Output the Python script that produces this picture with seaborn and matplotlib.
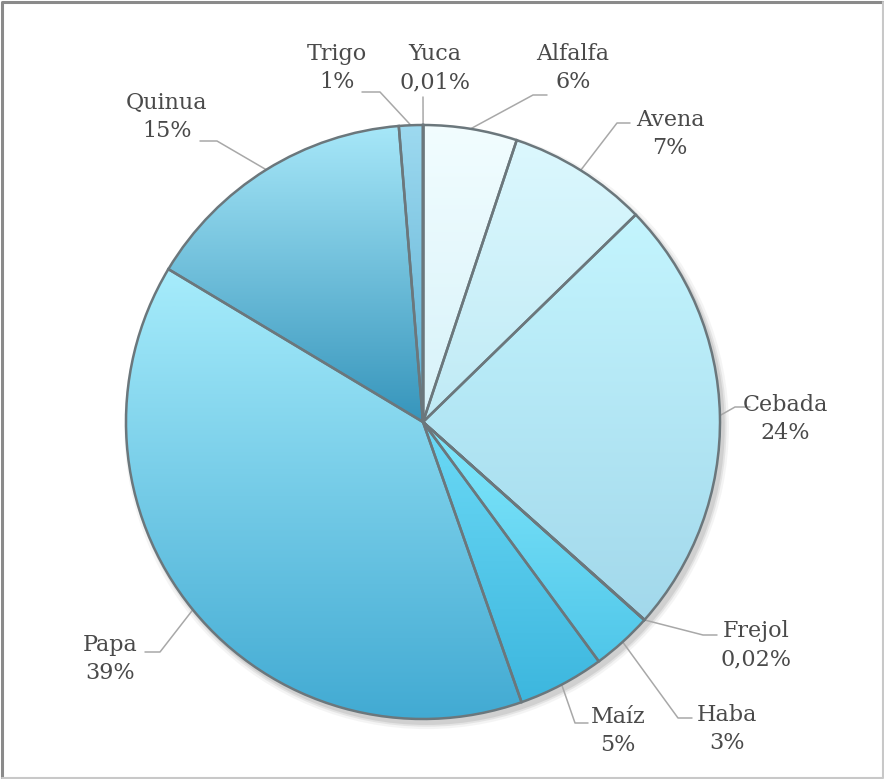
import numpy as np
import matplotlib.pyplot as plt
import seaborn as sns
from matplotlib.lines import Line2D
from matplotlib.patches import Circle
from matplotlib.colors import to_rgb

# datos
cultivos = ['Yuca', 'Alfalfa', 'Avena', 'Cebada', 'Frejol', 'Haba', 'Maíz', 'Papa', 'Quinua', 'Trigo']
porcentajes = [0.01, 5.1, 7.6, 23.9, 0.02, 3.3, 4.7, 39.0, 15.1, 1.3]
etiquetas = ['0,01%', '6%', '7%', '24%', '0,02%', '3%', '5%', '39%', '15%', '1%']

# colores degradados (arriba -> abajo)
color_arriba = ['#d6f4fc', '#f2fdff', '#dcf8fe', '#c4f5fe', '#8fe0f4',
                '#82e8fc', '#6cdaf6', '#a8edfc', '#a8e8f9', '#9edaf0']
color_abajo = ['#b8e6f4', '#d6f2f9', '#bfeaf5', '#a2d8eb', '#5ccbe8',
               '#4fc6e9', '#3cb6de', '#40a9d2', '#3594bb', '#5aaed2']

sns.set_style('white')
plt.rcParams['font.family'] = ['DejaVu Serif']

W, H = 884, 779
cx, cy, R = 423, 422, 297


def px(x, y):
    return (x - cx) / R, (cy - y) / R


# posicion de las etiquetas y codos de las lineas guia (pixeles)
pos_texto = [(435, 68), (573, 68), (670, 134), (785, 419), (756, 645),
             (727, 729), (618, 731), (110, 659), (167, 117), (337, 68)]
codo = [(423, 97), (533, 95), (617, 123), (735, 407), (703, 635),
        (678, 718), (575, 723), (160, 652), (217, 141), (380, 92)]
fin = [(423, 97), (547, 95), (630, 123), (750, 407), (717, 635),
       (692, 718), (588, 723), (145, 652), (200, 141), (362, 92)]

fig = plt.figure(figsize=(8.84, 7.79), dpi=100)
ax = fig.add_axes([0, 0, 1, 1])

# sombra suave
for dr, a in [(0.018, 0.10), (0.010, 0.18), (0.004, 0.25)]:
    ax.add_patch(Circle((0.012, -0.016), 1.0 + dr, color='#9a9a9a', alpha=a, lw=0, zorder=0.5))

wedges, _ = ax.pie(porcentajes, startangle=90, counterclock=False, radius=1,
                   colors=color_abajo,
                   wedgeprops=dict(edgecolor='#6b777c', linewidth=1.8))

for w, c1, c2 in zip(wedges, color_arriba, color_abajo):
    v = w.get_path().vertices
    x0, x1 = v[:, 0].min(), v[:, 0].max()
    y0, y1 = v[:, 1].min(), v[:, 1].max()
    t = np.linspace(0, 1, 256)[:, None]
    grad = (1 - t) * np.array(to_rgb(c1)) + t * np.array(to_rgb(c2))
    im = ax.imshow(grad[:, None, :], extent=(x0 - 0.01, x1 + 0.01, y0 - 0.01, y1 + 0.01),
                   origin='upper', aspect='auto', interpolation='bilinear', zorder=1.5)
    im.set_clip_path(w)
    w.set_facecolor('none')
    w.set_zorder(3)

# etiquetas con lineas guia
for w, nombre, etq, p, c, f in zip(wedges, cultivos, etiquetas, pos_texto, codo, fin):
    ang = np.deg2rad((w.theta1 + w.theta2) / 2)
    xs = [np.cos(ang), px(*c)[0], px(*f)[0]]
    ys = [np.sin(ang), px(*c)[1], px(*f)[1]]
    ax.plot(xs, ys, color='#a8a8a8', lw=1.1, zorder=2)
    ax.text(*px(*p), f'{nombre}\n{etq}', ha='center', va='center', multialignment='center',
            fontsize=16, color='#4a4a4a', linespacing=1.4, zorder=4)

ax.set_xlim(-cx / R, (W - cx) / R)
ax.set_ylim(-(H - cy) / R, cy / R)
ax.set_aspect('equal')
ax.axis('off')

# marco
fig.add_artist(Line2D([0.002, 0.002, 0.999], [0.0, 0.997, 0.997], color='#8a8a8a', lw=2.2))
fig.add_artist(Line2D([0.002, 0.999, 0.999], [0.001, 0.001, 0.997], color='#c8c8c8', lw=1.5))

fig.savefig('out.png', dpi=100, facecolor='white')
